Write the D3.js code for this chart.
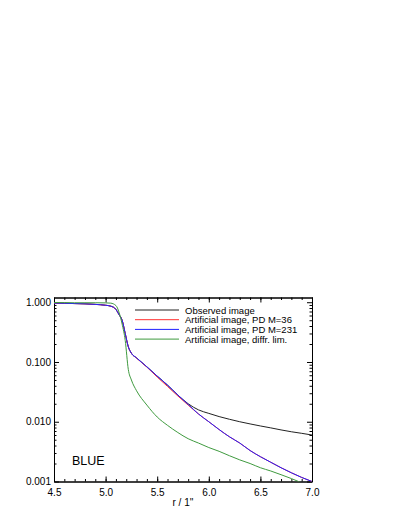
<!DOCTYPE html>
<html>
<head>
<meta charset="utf-8">
<script src="https://cdn.jsdelivr.net/npm/d3@7"></script>
<style>
  body { margin: 0; background: #fff; }
  svg { font-family: "Liberation Sans", Arial, sans-serif; }
  .tick text { font-size: 10px; fill: #000; }
  .legend text { font-size: 9.5px; fill: #000; }
</style>
</head>
<body>
<svg id="chart" width="399" height="516"></svg>
<script>
// radius grid (arcsec)
var radius = [4.5, 4.6, 4.7, 4.8, 4.9, 5.0, 5.05, 5.1, 5.13, 5.16, 5.19, 5.22, 5.25,
  5.3, 5.4, 5.5, 5.6, 5.7, 5.8, 5.9, 6.0, 6.1, 6.2, 6.3, 6.4, 6.5, 6.6, 6.7, 6.8, 6.9, 7.0];

var observed = [0.97, 0.96, 0.95, 0.94, 0.92, 0.89, 0.86, 0.76, 0.62, 0.5, 0.30, 0.18, 0.14,
  0.117, 0.083, 0.058, 0.041, 0.028, 0.020, 0.0158, 0.0138, 0.0122, 0.011, 0.010, 0.0092,
  0.0085, 0.0079, 0.0073, 0.0068, 0.0064, 0.0060];

var pdM36 = [0.97, 0.96, 0.95, 0.94, 0.92, 0.89, 0.86, 0.76, 0.62, 0.5, 0.30, 0.18, 0.14,
  0.116, 0.082, 0.056, 0.039, 0.027, 0.019, 0.0135, 0.0100, 0.0074, 0.0056, 0.0044, 0.0033,
  0.0026, 0.0021, 0.0017, 0.0014, 0.00117, 0.001];

var pdM231 = [0.97, 0.96, 0.95, 0.94, 0.92, 0.89, 0.86, 0.76, 0.62, 0.5, 0.30, 0.18, 0.14,
  0.117, 0.083, 0.058, 0.041, 0.028, 0.0195, 0.0135, 0.0100, 0.0074, 0.0056, 0.0044, 0.0033,
  0.0026, 0.0021, 0.0017, 0.0014, 0.00117, 0.001];

var diffrLim = [0.99, 0.985, 0.98, 0.98, 0.98, 0.975, 0.965, 0.88, 0.68, 0.43, 0.23, 0.075, 0.05,
  0.033, 0.019, 0.012, 0.0087, 0.0066, 0.0052, 0.0044, 0.0037, 0.0032, 0.0027, 0.0023, 0.0020,
  0.0017, 0.0015, 0.0013, 0.00112, 0.00095, 0.00081];

var seriesNames = ["Observed image", "Artificial image, PD M=36", "Artificial image, PD M=231", "Artificial image, diffr. lim."];
var seriesColors = ["#222222", "#ff3030", "#2020ff", "#3f9a3f"];

var xTicks = [4.5, 5.0, 5.5, 6.0, 6.5, 7.0];
var yTicks = [1, 0.1, 0.01, 0.001];

var svg = d3.select("#chart");
var pLeft = 54, pRight = 312, pTop = 297.5, pBottom = 481.5;

var x = d3.scaleLinear().domain([4.5, 7.0]).range([pLeft, pRight]);
var y = d3.scaleLog().domain([0.001, 1.2]).range([pBottom, pTop]);

svg.append("defs").append("clipPath").attr("id", "clip")
  .append("rect").attr("x", pLeft).attr("y", pTop)
  .attr("width", pRight - pLeft).attr("height", pBottom - pTop);

// minor ticks
var xMinor = d3.range(45, 71).map(function(d) { return d / 10; });
var yMinor = [];
[0.001, 0.01, 0.1].forEach(function(b) {
  for (var k = 2; k <= 9; k++) yMinor.push(b * k);
});

function axisG(axis, tx, ty) {
  var g = svg.append("g").attr("transform", "translate(" + tx + "," + ty + ")").call(axis);
  g.select(".domain").attr("stroke", "#000").attr("stroke-width", 1);
  g.selectAll(".tick line").attr("stroke", "#000");
  return g;
}

// bottom axis
axisG(d3.axisBottom(x).tickValues(xTicks).tickFormat(d3.format(".1f")).tickSizeInner(-5).tickSizeOuter(0).tickPadding(7), 0, pBottom);
axisG(d3.axisBottom(x).tickValues(xMinor).tickFormat("").tickSizeInner(-2.5).tickSizeOuter(0), 0, pBottom);
// top axis
axisG(d3.axisTop(x).tickValues(xTicks).tickFormat("").tickSizeInner(-5).tickSizeOuter(0), 0, pTop);
axisG(d3.axisTop(x).tickValues(xMinor).tickFormat("").tickSizeInner(-2.5).tickSizeOuter(0), 0, pTop);
// left axis
axisG(d3.axisLeft(y).tickValues(yTicks).tickFormat(d3.format(".3f")).tickSizeInner(-5).tickSizeOuter(0).tickPadding(3), pLeft, 0);
axisG(d3.axisLeft(y).tickValues(yMinor).tickFormat("").tickSizeInner(-2.5).tickSizeOuter(0), pLeft, 0);
// right axis
axisG(d3.axisRight(y).tickValues(yTicks).tickFormat("").tickSizeInner(-5).tickSizeOuter(0), pRight, 0);
axisG(d3.axisRight(y).tickValues(yMinor).tickFormat("").tickSizeInner(-2.5).tickSizeOuter(0), pRight, 0);

// curves
var line = d3.line()
  .x(function(d) { return x(d[0]); })
  .y(function(d) { return y(d[1]); })
  .curve(d3.curveMonotoneX);

var allSeries = [observed, pdM36, pdM231, diffrLim];
var plotG = svg.append("g").attr("clip-path", "url(#clip)");
allSeries.forEach(function(vals, i) {
  plotG.append("path")
    .datum(radius.map(function(r, j) { return [r, vals[j]]; }))
    .attr("fill", "none")
    .attr("stroke", seriesColors[i])
    .attr("stroke-width", 1)
    .attr("d", line);
});

// legend
var leg = svg.append("g").attr("class", "legend");
seriesNames.forEach(function(name, i) {
  var ly = 310 + i * 9.7;
  leg.append("line").attr("x1", 135).attr("x2", 179).attr("y1", ly).attr("y2", ly)
    .attr("stroke", seriesColors[i]).attr("stroke-width", 1);
  leg.append("text").attr("x", 185).attr("y", ly + 3.5).text(name);
});

// label
svg.append("text").attr("x", 72).attr("y", 465).attr("font-size", 12.5).text("BLUE");

// x title
svg.append("text").attr("x", (pLeft + pRight) / 2).attr("y", 506)
  .attr("text-anchor", "middle").attr("font-size", 10).text("r / 1''");
</script>
</body>
</html>
